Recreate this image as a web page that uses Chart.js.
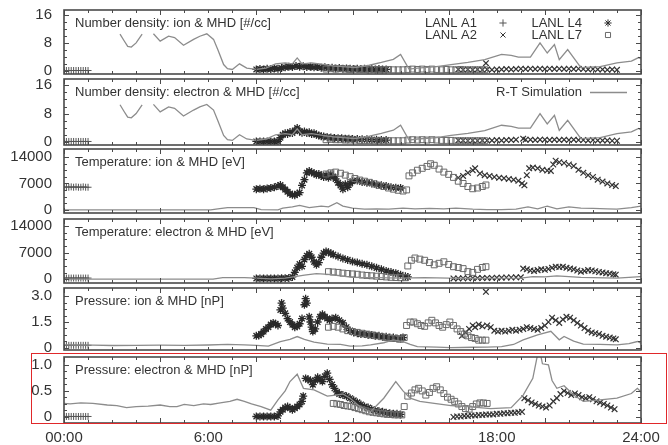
<!DOCTYPE html>
<html>
<head>
<meta charset="utf-8">
<script src="https://cdn.jsdelivr.net/npm/chart.js@4.4.0/dist/chart.umd.min.js"></script>
<style>
  body { margin: 0; background: #fff; width: 668px; height: 445px; position: relative; overflow: hidden; }
  canvas { position: absolute; left: 0; }
  #redbox { position: absolute; left: 31px; top: 353px; width: 636px; height: 71px; box-sizing: border-box; border: 1.5px solid #e0282a; }
</style>
</head>
<body>
<canvas id="p1" width="668" height="80"></canvas>
<canvas id="p2" width="668" height="82"></canvas>
<canvas id="p3" width="668" height="80"></canvas>
<canvas id="p4" width="668" height="80"></canvas>
<canvas id="p5" width="668" height="78"></canvas>
<canvas id="p6" width="668" height="96"></canvas>
<div id="redbox"></div>
<script>
// time axis (hours)
const hourTicks = [0, 6, 12, 18, 24];
const hourLabels = ['00:00', '6:00', '12:00', '18:00', '24:00'];

// R-T simulation (MHD), [hour, value]
const simDensity = [[2.33,10.5],[2.5,8.6],[2.65,7.0],[2.8,6.8],[3.0,8.0],[3.25,10.5],[3.45,null],[3.72,10.6],[4.0,8.5],[4.35,9.9],[4.6,9.5],[4.97,7.3],[5.39,9.0],[5.65,9.9],[5.94,10.6],[6.22,9.0],[6.4,6.0],[6.64,1.8],[6.8,0.6],[7.0,0.4],[7.3,2.0],[7.6,0.8],[8.0,0.4],[8.4,0.8],[8.8,2.0],[9.2,2.3],[9.5,2.0],[9.7,3.7],[9.9,2.0],[10.3,2.3],[10.7,1.9],[11.2,1.4],[11.6,1.2],[12.1,0.9],[12.7,1.6],[13.2,2.4],[13.7,3.3],[14.0,4.7],[14.35,0.5],[14.7,0.8],[15.5,1.2],[16.1,1.8],[16.8,2.4],[17.5,3.2],[18.2,4.7],[18.6,4.4],[18.9,3.9],[19.4,3.9],[19.8,8.0],[20.1,5.1],[20.4,7.5],[20.6,3.2],[20.95,6.1],[21.5,0.9],[22.3,1.2],[23.0,2.3],[23.6,2.8],[23.9,3.8],[24.0,3.4]];
const simTempIon = [[0,0],[6.1,0],[6.4,300],[6.8,600],[7.3,600],[7.9,600],[8.2,100],[8.9,50],[9.1,500],[9.5,800],[9.8,1200],[10.2,600],[10.7,1000],[11.0,800],[11.35,1900],[11.6,1000],[12.0,500],[12.5,200],[13.0,300],[13.5,200],[14.1,500],[14.6,300],[15.2,400],[15.8,300],[16.3,500],[17.0,200],[17.6,100],[18.2,100],[18.8,200],[19.3,800],[19.7,300],[20.1,1000],[20.5,300],[21.0,800],[21.5,500],[22.0,400],[22.6,300],[23.0,200],[23.6,600],[24.0,1000]];
const simTempEle = [[0,0],[6.2,0],[6.6,400],[7.5,400],[8.0,300],[8.6,100],[9.2,300],[9.6,700],[10.0,1100],[10.5,1500],[11.0,1300],[11.5,900],[12.0,500],[13.0,400],[14.0,300],[15.0,400],[16.0,300],[17.0,200],[18.0,200],[19.0,300],[19.5,700],[20.0,600],[20.5,900],[21.0,700],[21.5,500],[22.0,400],[23.0,300],[24.0,700]];
const simPresIon = [[0,0.18],[0.5,0.17],[1.2,0.16],[2.0,0.14],[3.0,0.15],[4.0,0.16],[5.0,0.15],[6.0,0.17],[6.8,0.2],[7.5,0.18],[8.0,0.15],[8.5,0.1],[9.0,0.37],[9.4,0.5],[9.7,0.66],[10.0,0.5],[10.4,0.33],[10.95,0.22],[11.5,0.2],[11.9,0.1],[12.4,0.12],[12.75,0.18],[13.3,0.3],[13.7,0.47],[14.1,0.37],[14.4,0.2],[14.7,0.08],[15.5,0.05],[16.1,0.02],[17.0,0.04],[17.6,0.05],[18.2,0.08],[18.7,0.2],[19.1,0.47],[19.7,0.76],[20.25,0.96],[20.6,0.47],[20.8,0.66],[21.2,0.4],[21.6,0.22],[22.3,0.2],[23.0,0.18],[23.5,0.25],[23.85,0.37],[24.0,0.27]];
const simPresEle = [[0,0.26],[0.25,0.25],[0.7,0.27],[1.2,0.26],[1.8,0.23],[2.2,0.22],[2.6,0.18],[3.0,0.2],[3.5,0.21],[4.0,0.23],[4.4,0.2],[4.7,0.2],[5.0,0.24],[5.4,0.22],[5.8,0.25],[6.1,0.24],[6.5,0.27],[6.9,0.3],[7.2,0.34],[7.5,0.3],[7.8,0.25],[8.2,0.2],[8.6,0.13],[8.9,0.33],[9.2,0.5],[9.4,0.68],[9.7,0.82],[9.96,0.55],[10.4,0.52],[10.95,0.4],[11.3,0.42],[11.6,0.44],[11.9,0.36],[12.3,0.2],[12.75,0.1],[13.3,0.36],[13.8,0.68],[14.1,0.5],[14.4,0.36],[14.8,0.3],[15.4,0.26],[16.1,0.22],[16.8,0.2],[17.75,0.16],[18.6,0.18],[19.1,0.42],[19.5,0.74],[19.7,1.2],[19.8,1.25],[19.9,1.02],[20.15,1.0],[20.3,0.7],[20.5,0.55],[20.8,0.6],[21.2,0.42],[21.6,0.3],[22.3,0.33],[23.0,0.36],[23.6,0.45],[23.85,0.55],[24.0,0.48]];

// LANL A1
const a1DenIon = [[0,0.1],[0.1,0.1],[0.2,0.1],[0.3,0.1],[0.4,0.1],[0.5,0.1],[0.6,0.1],[0.7,0.1],[0.8,0.1],[0.9,0.1],[1.0,0.1]];
const a1DenEle = [[0,0.1],[0.1,0.1],[0.2,0.1],[0.3,0.1],[0.4,0.1],[0.5,0.1],[0.6,0.1],[0.7,0.1],[0.8,0.1],[0.9,0.1],[1.0,0.1]];
const a1TempIon = [[0,6000],[0.1,6100],[0.2,6000],[0.3,6100],[0.4,6000],[0.5,6100],[0.6,6000],[0.7,6000],[0.8,6100],[0.9,6000],[1.0,6000]];
const a1TempEle = [[0,300],[0.1,300],[0.2,300],[0.3,300],[0.4,300],[0.5,300],[0.6,300],[0.7,300],[0.8,300],[0.9,300],[1.0,300]];
const a1PresIon = [[0,0.15],[0.1,0.15],[0.2,0.15],[0.3,0.15],[0.4,0.15],[0.5,0.15],[0.6,0.15],[0.7,0.15],[0.8,0.15],[0.9,0.15],[1.0,0.15]];
const a1PresEle = [[0,0.01],[0.1,0.01],[0.2,0.01],[0.3,0.01],[0.4,0.01],[0.5,0.01],[0.6,0.01],[0.7,0.01],[0.8,0.01],[0.9,0.01],[1.0,0.01]];

// LANL L4
const l4DenIon = [[8.0,0.4],[8.15,0.5],[8.3,0.4],[8.45,0.6],[8.6,0.5],[8.75,0.7],[8.9,0.6],[9.05,0.8],[9.2,1.0],[9.35,1.2],[9.5,1.1],[9.65,1.4],[9.8,1.2],[9.95,1.3],[10.1,1.1],[10.25,1.2],[10.4,1.0],[10.55,1.1],[10.7,0.9],[10.85,1.0],[11.0,0.8],[11.15,0.9],[11.3,0.7],[11.45,0.8],[11.6,0.6],[11.75,0.7],[11.9,0.6],[12.05,0.5],[12.2,0.6],[12.35,0.5],[12.5,0.6],[12.65,0.4],[12.8,0.5],[12.95,0.4],[13.1,0.5],[13.25,0.4],[13.4,0.4]];
const l4DenEle = [[8.0,0.1],[8.15,0.1],[8.3,0.1],[8.45,0.1],[8.6,0.1],[8.75,0.1],[8.9,0.1],[9.0,1.2],[9.1,2.0],[9.2,2.4],[9.3,2.2],[9.4,2.8],[9.5,2.5],[9.6,3.2],[9.7,3.9],[9.8,3.0],[9.9,2.6],[10.0,2.9],[10.1,2.5],[10.2,2.7],[10.3,2.2],[10.4,2.4],[10.5,2.0],[10.6,1.8],[10.7,1.6],[10.8,1.5],[10.95,1.3],[11.1,1.2],[11.25,1.1],[11.4,1.0],[11.55,1.0],[11.7,0.9],[11.85,0.9],[12.0,0.8],[12.2,0.8],[12.4,0.7],[12.6,0.7],[12.8,0.6],[13.0,0.6],[13.2,0.5],[13.4,0.5]];
const l4TempIon = [[8.0,5500],[8.15,5600],[8.3,5500],[8.45,5700],[8.6,5800],[8.75,6000],[8.9,6300],[9.0,6600],[9.1,6000],[9.2,5400],[9.3,4800],[9.4,4300],[9.5,4000],[9.6,3900],[9.7,4300],[9.8,4600],[9.9,6500],[10.0,8000],[10.1,9800],[10.2,10300],[10.3,9900],[10.4,9700],[10.5,9300],[10.6,9500],[10.7,9000],[10.8,8700],[10.9,9200],[11.0,8500],[11.1,9400],[11.2,8800],[11.3,8200],[11.4,7200],[11.5,6500],[11.6,5500],[11.7,6800],[11.8,6000],[11.9,7000],[12.0,7600],[12.2,7800],[12.4,7400],[12.6,7200],[12.8,7000],[13.0,6700],[13.2,6500],[13.4,6300],[13.6,6000],[13.8,5900],[14.0,5800]];
const l4TempEle = [[8.0,200],[8.15,200],[8.3,200],[8.45,200],[8.6,200],[8.75,200],[8.9,200],[9.05,250],[9.2,250],[9.35,300],[9.5,600],[9.6,1800],[9.7,3000],[9.8,4000],[9.9,3400],[10.0,5200],[10.1,6200],[10.2,6700],[10.3,5800],[10.4,4600],[10.5,3800],[10.6,4400],[10.7,5800],[10.8,6900],[10.9,7300],[11.0,7100],[11.1,6800],[11.2,6500],[11.4,6000],[11.6,5500],[11.8,5100],[12.0,4700],[12.2,4400],[12.4,4100],[12.6,3800],[12.8,3400],[13.0,3000],[13.2,2600],[13.4,2200],[13.6,1900],[13.8,1600],[14.0,1200],[14.2,800],[14.3,600]];
const l4PresIon = [[8.0,0.7],[8.1,0.72],[8.2,0.8],[8.3,0.95],[8.4,1.1],[8.5,1.2],[8.6,1.35],[8.7,1.45],[8.8,1.4],[8.9,1.3],[9.0,2.2],[9.05,2.6],[9.1,2.3],[9.2,2.0],[9.3,1.7],[9.4,1.5],[9.5,1.35],[9.6,1.2],[9.7,1.25],[9.8,1.4],[9.9,1.7],[10.0,2.5],[10.05,2.85],[10.1,2.6],[10.2,1.8],[10.25,1.5],[10.3,1.2],[10.35,0.95],[10.45,1.1],[10.55,1.5],[10.65,1.8],[10.75,1.95],[10.85,1.8],[10.95,1.7],[11.05,1.6],[11.15,1.7],[11.3,1.75],[11.45,1.6],[11.6,1.45],[11.75,1.2],[11.9,1.0],[12.05,0.9],[12.2,0.85],[12.35,0.8],[12.5,0.8],[12.65,0.75],[12.8,0.75],[12.95,0.7],[13.1,0.7],[13.25,0.65],[13.4,0.65],[13.55,0.6],[13.7,0.6],[13.85,0.55],[14.0,0.55],[14.1,0.6]];
const l4PresEle = [[8.0,0.01],[8.15,0.01],[8.3,0.01],[8.45,0.01],[8.6,0.01],[8.75,0.01],[8.9,0.02],[9.0,0.1],[9.1,0.14],[9.2,0.18],[9.3,0.2],[9.4,0.17],[9.5,0.14],[9.6,0.17],[9.7,0.2],[9.8,0.24],[9.9,0.3],[9.95,0.4],[10.05,0.74],[10.15,0.72],[10.25,0.7],[10.35,0.62],[10.45,0.7],[10.55,0.76],[10.65,0.72],[10.75,0.68],[10.85,0.78],[10.95,0.84],[11.05,0.72],[11.15,0.62],[11.25,0.55],[11.35,0.48],[11.45,0.44],[11.6,0.42],[11.75,0.4],[11.9,0.36],[12.05,0.32],[12.2,0.28],[12.35,0.24],[12.5,0.2],[12.65,0.18],[12.8,0.15],[12.95,0.13],[13.1,0.11],[13.25,0.1],[13.4,0.08],[13.55,0.07],[13.7,0.06],[13.85,0.06],[14.0,0.05]];

// LANL L7
const l7DenIon = [[10.9,0.5],[11.1,0.6],[11.3,0.5],[11.5,0.6],[11.7,0.5],[11.9,0.4],[12.1,0.5],[12.3,0.4],[12.5,0.4],[12.7,0.3],[12.9,0.4],[13.1,0.3],[13.3,0.3],[13.5,0.4],[13.7,0.3],[13.9,0.3],[14.1,0.3],[14.3,0.4],[14.5,0.5],[14.7,0.4],[14.9,0.5],[15.1,0.4],[15.3,0.5],[15.5,0.4],[15.7,0.3],[15.9,0.4],[16.1,0.3],[16.3,0.3],[16.5,0.4],[16.7,0.3],[16.9,0.3],[17.1,0.3],[17.3,0.3],[17.5,0.3]];
const l7DenEle = [[10.9,0.6],[11.1,0.7],[11.3,0.6],[11.5,0.6],[11.7,0.5],[11.9,0.5],[12.1,0.5],[12.3,0.4],[12.5,0.4],[12.7,0.4],[12.9,0.3],[13.1,0.3],[13.3,0.3],[13.5,0.3],[13.7,0.3],[13.9,0.3],[14.1,0.3],[14.3,0.5],[14.5,0.6],[14.7,0.5],[14.9,0.6],[15.1,0.5],[15.3,0.6],[15.5,0.5],[15.7,0.4],[15.9,0.4],[16.1,0.4],[16.3,0.3],[16.5,0.3],[16.7,0.3],[16.9,0.3],[17.1,0.3],[17.3,0.3],[17.5,0.3]];
const l7TempIon = [[10.9,9500],[11.1,9800],[11.3,10000],[11.5,9700],[11.7,9200],[11.9,8800],[12.1,8300],[12.3,7900],[12.5,7600],[12.7,7300],[12.9,6900],[13.1,6500],[13.3,6200],[13.5,5800],[13.7,5500],[13.9,5200],[14.1,5000],[14.25,5300],[14.35,9000],[14.5,9800],[14.7,10500],[14.9,11000],[15.1,11500],[15.25,12200],[15.4,11800],[15.6,10800],[15.8,10000],[16.0,9400],[16.2,8600],[16.4,7600],[16.6,7000],[16.8,6200],[17.0,5600],[17.2,5800],[17.4,6200],[17.55,6600]];
const l7TempEle = [[11.0,2000],[11.2,1900],[11.4,1800],[11.6,1600],[11.8,1500],[12.0,1400],[12.2,1300],[12.4,1100],[12.6,1000],[12.8,900],[13.0,800],[13.2,700],[13.4,600],[13.6,500],[13.8,450],[14.0,400],[14.2,400],[14.3,3500],[14.45,5000],[14.6,5600],[14.8,5300],[15.0,5000],[15.2,4400],[15.4,3800],[15.6,4200],[15.8,4600],[16.0,3900],[16.2,3300],[16.4,3100],[16.6,2800],[16.8,2000],[17.0,1800],[17.2,2600],[17.4,3100],[17.55,3300]];
const l7PresIon = [[11.0,1.2],[11.2,1.25],[11.4,1.2],[11.6,1.1],[11.8,1.0],[12.0,0.95],[12.2,0.9],[12.4,0.85],[12.6,0.8],[12.8,0.75],[13.0,0.7],[13.2,0.65],[13.4,0.6],[13.6,0.55],[13.8,0.55],[14.0,0.5],[14.15,0.6],[14.25,1.3],[14.4,1.5],[14.55,1.5],[14.7,1.4],[14.85,1.3],[15.0,1.25],[15.15,1.45],[15.3,1.6],[15.45,1.45],[15.6,1.3],[15.75,1.2],[15.9,1.35],[16.05,1.5],[16.2,1.3],[16.35,1.1],[16.5,0.95],[16.65,0.8],[16.8,0.7],[16.95,0.6],[17.1,0.55],[17.25,0.45],[17.4,0.45],[17.55,0.45]];
const l7PresEle = [[11.2,0.26],[11.35,0.25],[11.5,0.24],[11.65,0.22],[11.8,0.21],[11.95,0.2],[12.1,0.18],[12.25,0.16],[12.4,0.14],[12.55,0.12],[12.7,0.1],[12.85,0.09],[13.0,0.08],[13.15,0.07],[13.3,0.06],[13.45,0.05],[13.6,0.05],[13.75,0.04],[13.9,0.04],[14.05,0.04],[14.15,0.2],[14.3,0.4],[14.45,0.46],[14.6,0.52],[14.75,0.55],[14.9,0.5],[15.05,0.42],[15.2,0.47],[15.35,0.55],[15.5,0.58],[15.65,0.52],[15.8,0.45],[15.95,0.38],[16.1,0.34],[16.25,0.3],[16.4,0.25],[16.55,0.2],[16.7,0.16],[16.85,0.15],[17.0,0.2],[17.15,0.25],[17.3,0.27],[17.45,0.27],[17.6,0.26]];

// LANL A2
const a2DenIon = [[16.4,0.4],[16.6,0.3],[16.8,0.4],[17.0,0.3],[17.2,0.4],[17.4,0.3],[17.55,2.2],[17.6,0.4],[17.8,0.3],[18.0,0.4],[18.2,0.4],[18.4,0.5],[18.6,0.4],[18.8,0.5],[19.0,0.6],[19.2,0.5],[19.4,0.6],[19.6,0.5],[19.8,0.6],[20.0,0.5],[20.2,0.6],[20.4,0.5],[20.6,0.6],[20.8,0.5],[21.0,0.6],[21.2,0.5],[21.4,0.6],[21.6,0.5],[21.8,0.4],[22.0,0.5],[22.2,0.4],[22.4,0.4],[22.6,0.3],[22.8,0.4],[23.0,0.3]];
const a2DenEle = [[16.4,0.4],[16.6,0.4],[16.8,0.3],[17.0,0.4],[17.2,0.3],[17.4,0.4],[17.6,0.4],[17.8,0.4],[18.0,0.5],[18.2,0.4],[18.4,0.5],[18.6,0.5],[18.8,0.6],[19.1,0.9],[19.2,0.6],[19.4,0.6],[19.6,0.5],[19.8,0.6],[20.0,0.6],[20.2,0.5],[20.4,0.6],[20.6,0.5],[20.8,0.6],[21.0,0.5],[21.2,0.6],[21.4,0.5],[21.6,0.5],[21.8,0.4],[22.0,0.5],[22.2,0.4],[22.4,0.4],[22.6,0.4],[22.8,0.3],[23.0,0.3]];
const a2TempIon = [[16.4,8500],[16.6,9000],[16.8,9800],[17.0,10500],[17.1,11000],[17.3,9600],[17.5,9200],[17.7,9000],[17.9,8700],[18.1,8500],[18.3,8400],[18.5,8200],[18.7,8000],[18.9,7700],[19.05,7000],[19.15,6500],[19.25,9200],[19.35,11000],[19.5,11200],[19.7,11000],[19.9,10600],[20.1,10400],[20.25,10300],[20.35,12000],[20.45,13000],[20.6,12600],[20.8,12400],[21.0,12000],[21.2,11600],[21.4,10600],[21.6,9800],[21.8,9200],[22.0,8700],[22.2,8000],[22.4,7500],[22.6,7000],[22.8,6600],[22.95,6300]];
const a2TempEle = [[16.2,200],[16.4,200],[16.6,250],[16.8,250],[17.0,300],[17.2,300],[17.4,300],[17.6,350],[17.8,350],[18.0,400],[18.2,400],[18.4,450],[18.6,450],[18.8,500],[19.0,500],[19.1,2800],[19.25,2600],[19.4,2300],[19.55,2200],[19.7,2400],[19.85,2600],[20.0,2500],[20.15,2700],[20.3,3000],[20.45,3300],[20.6,3200],[20.75,3300],[20.9,3000],[21.05,2800],[21.2,2600],[21.35,2300],[21.5,2000],[21.65,2200],[21.8,2400],[21.95,2300],[22.1,2100],[22.25,1900],[22.4,1800],[22.55,1600],[22.7,1500],[22.85,1300],[22.95,1200]];
const a2PresIon = [[16.55,0.7],[16.7,0.9],[16.85,1.1],[17.0,1.3],[17.1,1.2],[17.25,1.35],[17.4,1.25],[17.55,3.25],[17.6,1.3],[17.75,1.2],[17.9,1.0],[18.05,0.95],[18.2,1.0],[18.35,0.95],[18.5,1.0],[18.65,1.05],[18.8,1.0],[18.95,1.05],[19.1,1.1],[19.25,1.2],[19.4,1.15],[19.55,1.1],[19.7,1.05],[19.85,1.15],[20.0,1.3],[20.15,1.5],[20.3,1.75],[20.45,1.6],[20.6,1.45],[20.75,1.65],[20.9,1.8],[21.05,1.75],[21.2,1.6],[21.35,1.45],[21.5,1.3],[21.65,1.15],[21.8,1.0],[21.95,0.9],[22.1,0.85],[22.25,0.8],[22.4,0.7],[22.55,0.65],[22.7,0.6],[22.85,0.55],[22.95,0.5]];
const a2PresEle = [[16.2,0.0],[16.35,0.01],[16.5,0.01],[16.65,0.02],[16.8,0.02],[16.95,0.03],[17.1,0.03],[17.25,0.04],[17.4,0.04],[17.55,0.05],[17.7,0.05],[17.85,0.05],[18.0,0.06],[18.15,0.06],[18.3,0.07],[18.45,0.07],[18.6,0.08],[18.75,0.08],[18.9,0.09],[19.05,0.1],[19.15,0.36],[19.3,0.32],[19.45,0.28],[19.6,0.25],[19.75,0.22],[19.9,0.2],[20.05,0.18],[20.2,0.22],[20.35,0.3],[20.5,0.36],[20.65,0.44],[20.8,0.5],[20.95,0.46],[21.1,0.42],[21.25,0.45],[21.4,0.42],[21.55,0.38],[21.7,0.36],[21.85,0.38],[22.0,0.34],[22.15,0.3],[22.3,0.28],[22.45,0.25],[22.6,0.22],[22.75,0.18],[22.9,0.15]];

const FONT = '"Liberation Sans", Arial, sans-serif';
const INK = '#333';

const markers = {
  a1: { pointStyle: 'cross', radius: 3.5, borderColor: '#555', borderWidth: 1 },
  a2: { pointStyle: 'crossRot', radius: 4, borderColor: '#333', borderWidth: 1.2 },
  l4: { pointStyle: 'star', radius: 4, borderColor: '#2a2a2a', borderWidth: 1.3 },
  l7: { pointStyle: 'rect', radius: 4.2, borderColor: '#6a6a6a', borderWidth: 1 }
};

function pts(arr) { return arr.map(p => ({ x: p[0], y: p[1] })); }

function markerSet(arr, m) {
  return {
    type: 'scatter', data: pts(arr), order: 2,
    pointStyle: m.pointStyle, pointRadius: m.radius, pointBorderColor: m.borderColor,
    pointBorderWidth: m.borderWidth, pointBackgroundColor: 'rgba(0,0,0,0)', showLine: false
  };
}

// frame, inward ticks, tick labels, panel title and keys
const framePlugin = {
  id: 'frame',
  afterDraw(chart, args, o) {
    const { ctx, chartArea: a, scales: { x, y } } = chart;
    ctx.save();
    ctx.strokeStyle = '#4a4a4a';
    ctx.lineWidth = 1;
    ctx.beginPath();
    for (let h = 0; h <= 24; h++) {
      const px = Math.round(x.getPixelForValue(h)) + 0.5;
      const len = h % 4 === 0 ? 5 : 3;
      ctx.moveTo(px, a.top); ctx.lineTo(px, a.top + len);
      ctx.moveTo(px, a.bottom); ctx.lineTo(px, a.bottom - len);
    }
    const top = o.yTicks[o.yTicks.length - 1];
    for (let i = 0; o.yTicks[0] + i * o.minor <= top + 1e-9; i++) {
      const v = o.yTicks[0] + i * o.minor;
      const py = Math.round(y.getPixelForValue(v)) + 0.5;
      const len = i % 4 === 0 ? 5 : 3;
      ctx.moveTo(a.left, py); ctx.lineTo(a.left + len, py);
      ctx.moveTo(a.right, py); ctx.lineTo(a.right - len, py);
    }
    ctx.stroke();
    ctx.lineWidth = 1.6;
    ctx.strokeRect(a.left, a.top, a.right - a.left, a.bottom - a.top);

    ctx.fillStyle = INK;
    ctx.font = '15px ' + FONT;
    ctx.textBaseline = 'middle';
    ctx.textAlign = 'right';
    o.yTicks.forEach((v, i) => ctx.fillText(o.yLabels[i], a.left - 12, y.getPixelForValue(v)));
    if (o.last) {
      ctx.textAlign = 'center';
      hourTicks.forEach((v, i) => ctx.fillText(hourLabels[i], x.getPixelForValue(v), a.bottom + 15));
    }

    ctx.font = '13px ' + FONT;
    ctx.textAlign = 'left';
    ctx.fillText(o.title, a.left + 11, a.top + 13);

    if (o.key === 'sats') {
      ctx.textAlign = 'right';
      const rows = [['LANL A1', markers.a1, 'LANL L4', markers.l4], ['LANL A2', markers.a2, 'LANL L7', markers.l7]];
      rows.forEach((r, i) => {
        const yy = a.top + 13 + i * 12;
        ctx.fillStyle = INK;
        ctx.fillText(r[0], 477, yy);
        ctx.fillText(r[2], 582, yy);
        [[r[1], 503], [r[3], 608]].forEach(([m, xx]) => {
          ctx.strokeStyle = m.borderColor;
          ctx.fillStyle = 'rgba(0,0,0,0)';
          ctx.lineWidth = 1;
          Chart.helpers.drawPoint(ctx, { pointStyle: m.pointStyle, radius: 3.6, borderWidth: 1, rotation: 0 }, xx, yy);
        });
      });
    }
    if (o.key === 'sim') {
      ctx.textAlign = 'right';
      ctx.fillText('R-T Simulation', 582, a.top + 13);
      ctx.strokeStyle = '#8c8c8c';
      ctx.lineWidth = 1.3;
      ctx.beginPath();
      ctx.moveTo(590, a.top + 13.5); ctx.lineTo(627, a.top + 13.5);
      ctx.stroke();
    }
    ctx.restore();
  }
};

const panels = [
  { id: 'p1', min: -0.9, max: 17.4, yTicks: [0, 8, 16], yLabels: ['0', '8', '16'], minor: 2,
    title: 'Number density: ion & MHD [#/cc]', key: 'sats', sim: simDensity,
    a1: a1DenIon, a2: a2DenIon, l4: l4DenIon, l7: l7DenIon },
  { id: 'p2', min: -0.9, max: 17.8, yTicks: [0, 8, 16], yLabels: ['0', '8', '16'], minor: 2,
    title: 'Number density: electron & MHD [#/cc]', key: 'sim', sim: simDensity,
    a1: a1DenEle, a2: a2DenEle, l4: l4DenEle, l7: l7DenEle },
  { id: 'p3', min: -800, max: 16100, yTicks: [0, 7000, 14000], yLabels: ['0', '7000', '14000'], minor: 1750,
    title: 'Temperature: ion & MHD [eV]', sim: simTempIon,
    a1: a1TempIon, a2: a2TempIon, l4: l4TempIon, l7: l7TempIon },
  { id: 'p4', min: -1000, max: 15900, yTicks: [0, 7000, 14000], yLabels: ['0', '7000', '14000'], minor: 1750,
    title: 'Temperature: electron & MHD [eV]', sim: simTempEle,
    a1: a1TempEle, a2: a2TempEle, l4: l4TempEle, l7: l7TempEle },
  { id: 'p5', min: -0.12, max: 3.47, yTicks: [0, 1.5, 3], yLabels: ['0', '1.5', '3.0'], minor: 0.375,
    title: 'Pressure: ion & MHD [nP]', sim: simPresIon,
    a1: a1PresIon, a2: a2PresIon, l4: l4PresIon, l7: l7PresIon },
  { id: 'p6', min: -0.115, max: 1.15, yTicks: [0, 0.5, 1], yLabels: ['0', '0.5', '1.0'], minor: 0.125,
    title: 'Pressure: electron & MHD [nP]', sim: simPresEle,
    a1: a1PresEle, a2: a2PresEle, l4: l4PresEle, l7: l7PresEle, last: true }
];

// frame top / height in page pixels
const frames = [[10, 64], [79, 66], [149, 64], [219, 64], [288, 62], [357, 66]];

panels.forEach((p, i) => {
  const cv = document.getElementById(p.id);
  const [ft, fh] = frames[i];
  const padBottom = p.last ? 22 : 8;
  cv.style.top = (ft - 8) + 'px';
  cv.height = fh + 8 + padBottom;

  new Chart(cv.getContext('2d'), {
    type: 'scatter',
    data: {
      datasets: [
        { type: 'line', data: pts(p.sim), borderColor: '#8c8c8c', borderWidth: 1.3,
          pointRadius: 0, tension: 0, spanGaps: false, order: 1 },
        markerSet(p.a1, markers.a1),
        markerSet(p.l7, markers.l7),
        markerSet(p.a2, markers.a2),
        markerSet(p.l4, markers.l4)
      ]
    },
    options: {
      responsive: false,
      animation: false,
      devicePixelRatio: 1,
      layout: { padding: { top: 8, bottom: padBottom, left: 0, right: 27 } },
      plugins: {
        legend: { display: false },
        tooltip: { enabled: false },
        frame: { title: p.title, key: p.key, yTicks: p.yTicks, yLabels: p.yLabels, minor: p.minor, last: !!p.last }
      },
      scales: {
        x: { type: 'linear', min: 0, max: 24, display: false },
        y: {
          min: p.min, max: p.max,
          grid: { display: false }, border: { display: false },
          ticks: { display: false },
          afterFit: s => { s.width = 64; }
        }
      }
    },
    plugins: [framePlugin]
  });
});
</script>
</body>
</html>
